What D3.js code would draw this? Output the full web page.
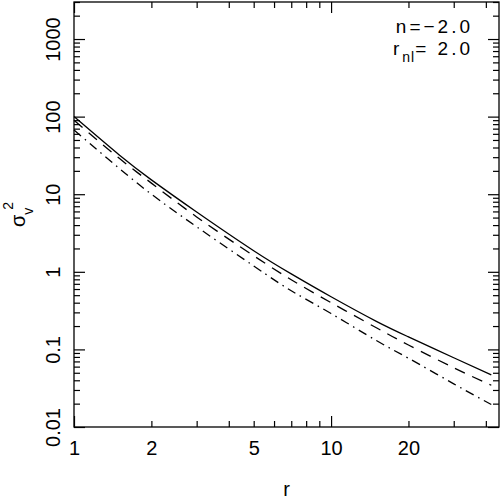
<!DOCTYPE html>
<html lang="en">
<head>
<meta charset="UTF-8">
<title>sigma_v^2 against r</title>
<style>
  body { margin: 0; background: #fff; }
  svg { display: block; }
  text { font-family: "Liberation Sans", Arial, sans-serif; fill: #000; }
</style>
</head>
<body>
<div id="chart"></div>
<script src="https://cdn.jsdelivr.net/npm/d3@7"></script>
<script>
// radius (shared by the three curves)
var rValues = [1, 1.5, 2, 3, 5, 7, 10, 15, 20, 30, 42];
// sigma_v^2 for each curve
var solidValues = [100, 32, 15.3, 5.9, 1.87, 0.94, 0.477, 0.23, 0.145, 0.078, 0.047];
var dashedValues = [90, 29, 13.9, 5.1, 1.61, 0.79, 0.40, 0.19, 0.114, 0.058, 0.0345];
var dashDotValues = [67, 21.5, 10, 3.8, 1.19, 0.57, 0.29, 0.13, 0.077, 0.036, 0.0195];
// tick labels
var xLabels = [1, 2, 5, 10, 20];
var yLabels = [0.01, 0.1, 1, 10, 100, 1000];

var W = 501, H = 501;
// plot box edges (not "top": that name belongs to window)
var box = {left: 74, right: 499, top: 2, bottom: 427};

var x = d3.scaleLog().domain([1, 45]).range([box.left, box.right]);
var y = d3.scaleLog().domain([0.01, 3000]).range([box.bottom, box.top]);

var svg = d3.select("#chart").append("svg")
    .attr("width", W)
    .attr("height", H);

// decades get long ticks, everything else short
function isDecade(v) {
    var l = Math.log10(v);
    return Math.abs(l - Math.round(l)) < 1e-9;
}
var xTicks = x.ticks();
var yTicks = y.ticks();
var xMajor = xTicks.filter(isDecade), xMinor = xTicks.filter(function (d) { return !isDecade(d); });
var yMajor = yTicks.filter(isDecade), yMinor = yTicks.filter(function (d) { return !isDecade(d); });

function tickAxis(axis, vals, len, tx, ty) {
    var g = svg.append("g")
        .attr("transform", "translate(" + tx + "," + ty + ")")
        .call(axis.tickValues(vals).tickSizeInner(-len).tickSizeOuter(0).tickFormat(""));
    g.select(".domain").remove();
    g.selectAll("line").attr("stroke", "#000").attr("stroke-width", 1.2);
}

tickAxis(d3.axisBottom(x), xMinor, 6, 0, box.bottom);
tickAxis(d3.axisBottom(x), xMajor, 11, 0, box.bottom);
tickAxis(d3.axisTop(x), xMinor, 6, 0, box.top);
tickAxis(d3.axisTop(x), xMajor, 11, 0, box.top);
tickAxis(d3.axisLeft(y), yMinor, 6, box.left, 0);
tickAxis(d3.axisLeft(y), yMajor, 11, box.left, 0);
tickAxis(d3.axisRight(y), yMinor, 6, box.right, 0);
tickAxis(d3.axisRight(y), yMajor, 11, box.right, 0);

// frame
svg.append("rect")
    .attr("x", box.left)
    .attr("y", box.top)
    .attr("width", box.right - box.left)
    .attr("height", box.bottom - box.top)
    .attr("fill", "none")
    .attr("stroke", "#000")
    .attr("stroke-width", 1.3);

// tick labels
var xl = svg.append("g")
    .attr("transform", "translate(0," + box.bottom + ")")
    .call(d3.axisBottom(x).tickValues(xLabels).tickSize(0).tickFormat(function (d) { return String(d); }));
xl.select(".domain").remove();
xl.selectAll("text")
    .attr("y", 28)
    .attr("dy", 0)
    .attr("font-size", 20)
    .attr("font-family", "Liberation Sans, Arial, sans-serif");

var yl = svg.append("g")
    .attr("transform", "translate(" + box.left + ",0)")
    .call(d3.axisLeft(y).tickValues(yLabels).tickSize(0).tickFormat(function (d) { return String(d); }));
yl.select(".domain").remove();
yl.selectAll("text")
    .attr("transform", "rotate(-90)")
    .attr("x", 0)
    .attr("y", -14)
    .attr("dy", 0)
    .attr("text-anchor", "middle")
    .attr("font-size", 20)
    .attr("font-family", "Liberation Sans, Arial, sans-serif");

// axis titles
svg.append("text")
    .attr("x", (box.left + box.right) / 2)
    .attr("y", 496)
    .attr("text-anchor", "middle")
    .attr("font-size", 20)
    .text("r");

var yt = svg.append("text")
    .attr("transform", "translate(25,227) rotate(-90)")
    .attr("font-size", 20);
yt.append("tspan").text("σ");
yt.append("tspan").attr("font-size", 14).attr("dy", 8).text("v");
yt.append("tspan").attr("font-size", 14).attr("dy", -20).attr("dx", -2).text("2");

// curves
var series = [
    {values: solidValues, dash: null},
    {values: dashedValues, dash: "11,8"},
    {values: dashDotValues, dash: "9,5,1.5,5"}
];

var line = d3.line()
    .x(function (d) { return x(d[0]); })
    .y(function (d) { return y(d[1]); })
    .curve(d3.curveNatural);

series.forEach(function (s) {
    svg.append("path")
        .datum(d3.zip(rValues, s.values))
        .attr("d", line)
        .attr("fill", "none")
        .attr("stroke", "#000")
        .attr("stroke-width", 1.3)
        .attr("stroke-dasharray", s.dash);
});

// parameters, top right
svg.append("text")
    .attr("x", 473)
    .attr("y", 33)
    .attr("text-anchor", "end")
    .attr("font-size", 19)
    .attr("letter-spacing", 3)
    .text("n=−2.0");

var t2 = svg.append("text")
    .attr("x", 473)
    .attr("y", 55)
    .attr("text-anchor", "end")
    .attr("font-size", 19)
    .attr("letter-spacing", 3);
t2.append("tspan").text("r");
t2.append("tspan").attr("font-size", 14).attr("dy", 7).attr("letter-spacing", 1).text("nl");
t2.append("tspan").attr("dy", -7).text("= 2.0");
</script>
</body>
</html>
